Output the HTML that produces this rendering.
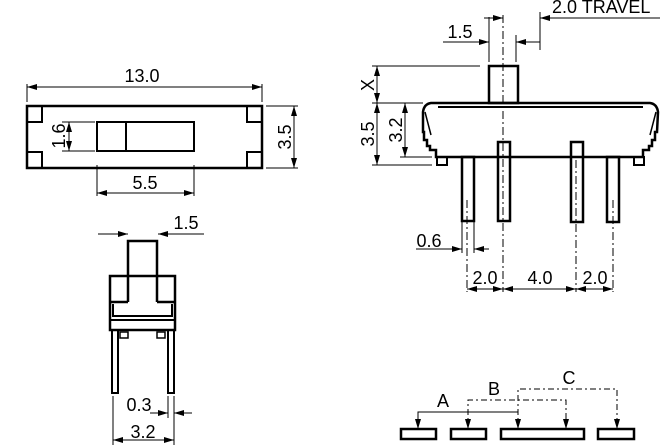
<!DOCTYPE html>
<html><head><meta charset="utf-8"><style>
html,body{margin:0;padding:0;background:#fff}
svg{display:block}
text{font-family:"Liberation Sans",sans-serif;font-size:18px;fill:#000}
</style></head><body>
<svg width="660" height="447" viewBox="0 0 660 447" xmlns="http://www.w3.org/2000/svg">
<defs>
<marker id="a" viewBox="0 0 10 6" refX="10" refY="3" markerWidth="10" markerHeight="6" markerUnits="userSpaceOnUse" orient="auto"><path d="M0,0L10,3L0,6z" fill="#000"/></marker>
</defs>
<g fill="none" stroke="#000">
<g stroke-width="2.5">
<rect x="27" y="106" width="235" height="62"/>
<rect x="97" y="122" width="97" height="29" stroke-width="2"/>
<line x1="126" y1="122" x2="126" y2="151" stroke-width="2"/>
<rect x="27" y="106" width="15" height="16" stroke-width="2"/>
<rect x="27" y="152" width="15" height="16" stroke-width="2"/>
<rect x="247" y="106" width="15" height="16" stroke-width="2"/>
<rect x="247" y="152" width="15" height="16" stroke-width="2"/>
</g>
<g stroke-width="1">
<line x1="27" y1="102" x2="27" y2="84"/><line x1="262" y1="102" x2="262" y2="84"/>
<line x1="40" y1="87" x2="27" y2="87" marker-end="url(#a)"/><line x1="40" y1="87" x2="262" y2="87" marker-end="url(#a)"/>
<line x1="266" y1="106" x2="298" y2="106"/><line x1="266" y1="168" x2="298" y2="168"/>
<line x1="294" y1="130" x2="294" y2="106" marker-end="url(#a)"/><line x1="294" y1="130" x2="294" y2="168" marker-end="url(#a)"/>
<line x1="62" y1="122" x2="95" y2="122"/><line x1="62" y1="151" x2="95" y2="151"/>
<line x1="69" y1="136" x2="69" y2="122" marker-end="url(#a)"/><line x1="69" y1="136" x2="69" y2="151" marker-end="url(#a)"/>
<line x1="97" y1="165" x2="97" y2="196"/><line x1="194" y1="165" x2="194" y2="196"/>
<line x1="145" y1="193" x2="97" y2="193" marker-end="url(#a)"/><line x1="145" y1="193" x2="194" y2="193" marker-end="url(#a)"/>
</g>

<g stroke-width="2.5">
<rect x="489" y="66" width="29" height="37"/>
<path d="M431,103 L650,103 Q657,104 658,112 L657,132 L655,132 L655,140 L652,140 L652,146 L649,146 L649,150 L643,150 L643,157 L436,157 L436,150 L430,150 L430,146 L427,146 L427,140 L424,140 L424,132 L423,132 L423,112 Q424,104 431,103 Z"/>
<path d="M425,112 L431,135 M656,112 L650,135" stroke-width="1.5"/>
<line x1="438" y1="107" x2="643" y2="107" stroke-width="2"/>
<rect x="437" y="157" width="10" height="8" stroke-width="2"/>
<rect x="634" y="157" width="10" height="8" stroke-width="2"/>
<rect x="462" y="157" width="12" height="64"/>
<rect x="498" y="142" width="12" height="79"/>
<rect x="571" y="142" width="12" height="80"/>
<rect x="607" y="157" width="12" height="65"/>
</g>
<g stroke-width="1">
<line x1="503" y1="15" x2="503" y2="292" stroke-dasharray="8,3,2,3"/>
<line x1="467" y1="200" x2="467" y2="292" stroke-dasharray="8,3,2,3"/>
<line x1="576" y1="160" x2="576" y2="292" stroke-dasharray="8,3,2,3"/>
<line x1="613" y1="200" x2="613" y2="292" stroke-dasharray="8,3,2,3"/>
<line x1="489" y1="17" x2="489" y2="62"/><line x1="516" y1="35" x2="516" y2="62"/>
<line x1="443" y1="42" x2="489" y2="42" marker-end="url(#a)"/><line x1="540" y1="42" x2="516" y2="42" marker-end="url(#a)"/>
<line x1="540" y1="12" x2="540" y2="50"/>
<line x1="660" y1="18" x2="540" y2="18" marker-end="url(#a)"/>
<line x1="484" y1="18" x2="503" y2="18" marker-end="url(#a)"/>
<line x1="372" y1="66" x2="480" y2="66"/><line x1="372" y1="103" x2="423" y2="103"/>
<line x1="372" y1="165" x2="432" y2="165"/><line x1="400" y1="157" x2="432" y2="157"/>
<line x1="377" y1="84" x2="377" y2="66" marker-end="url(#a)"/><line x1="377" y1="84" x2="377" y2="103" marker-end="url(#a)"/>
<line x1="377" y1="134" x2="377" y2="103" marker-end="url(#a)"/><line x1="377" y1="134" x2="377" y2="165" marker-end="url(#a)"/>
<line x1="405" y1="130" x2="405" y2="103" marker-end="url(#a)"/><line x1="405" y1="130" x2="405" y2="157" marker-end="url(#a)"/>
<line x1="462" y1="222" x2="462" y2="253"/><line x1="474" y1="222" x2="474" y2="253"/>
<line x1="416" y1="249" x2="462" y2="249" marker-end="url(#a)"/><line x1="489" y1="249" x2="474" y2="249" marker-end="url(#a)"/>
<line x1="485" y1="289" x2="467" y2="289" marker-end="url(#a)"/><line x1="485" y1="289" x2="503" y2="289" marker-end="url(#a)"/>
<line x1="540" y1="289" x2="503" y2="289" marker-end="url(#a)"/><line x1="540" y1="289" x2="576" y2="289" marker-end="url(#a)"/>
<line x1="595" y1="289" x2="576" y2="289" marker-end="url(#a)"/><line x1="595" y1="289" x2="613" y2="289" marker-end="url(#a)"/>
</g>

<g stroke-width="2.5">
<path d="M128,302 L128,241 L157,241 L157,302"/>
<rect x="110" y="276" width="65" height="54"/>
<path d="M110,302 L128,302 M157,302 L175,302"/>
<path d="M113,304 L113,316 L172,316 L172,304" stroke-width="2"/>
<line x1="110" y1="320" x2="175" y2="320" stroke-width="2"/>
<rect x="112" y="330" width="6" height="63" stroke-width="2"/>
<rect x="168" y="330" width="6" height="63" stroke-width="2"/>
<rect x="120" y="332" width="8" height="6" stroke-width="1.5"/>
<rect x="157" y="332" width="8" height="6" stroke-width="1.5"/>
</g>
<g stroke-width="1">
<line x1="98" y1="234" x2="128" y2="234" marker-end="url(#a)"/><line x1="204" y1="234" x2="158" y2="234" marker-end="url(#a)"/>
<line x1="113" y1="396" x2="113" y2="445"/><line x1="168" y1="396" x2="168" y2="418"/><line x1="174" y1="396" x2="174" y2="445"/>
<line x1="150" y1="413" x2="168" y2="413" marker-end="url(#a)"/><line x1="192" y1="413" x2="174" y2="413" marker-end="url(#a)"/>
<line x1="143" y1="440" x2="113" y2="440" marker-end="url(#a)"/><line x1="143" y1="440" x2="174" y2="440" marker-end="url(#a)"/>
</g>

<g stroke-width="2.5">
<rect x="401" y="429" width="35" height="10"/>
<rect x="451" y="429" width="35" height="10"/>
<rect x="501" y="429" width="83" height="10"/>
<rect x="598" y="429" width="36" height="10"/>
</g>
<g stroke-width="1">
<path d="M518,412 L418,412 L418,429" marker-end="url(#a)"/>
<path d="M468,429 L468,400 L566,400 L566,429" stroke-dasharray="6,3,2,3"/>
<line x1="468" y1="418" x2="468" y2="429" marker-end="url(#a)"/>
<line x1="566" y1="418" x2="566" y2="429" marker-end="url(#a)"/>
<path d="M518,429 L518,389 L617,389 L617,429" stroke-dasharray="6,3,2,3"/>
<line x1="518" y1="418" x2="518" y2="429" marker-end="url(#a)"/>
<line x1="617" y1="418" x2="617" y2="429" marker-end="url(#a)"/>
</g>
</g>

<g>
<text x="142" y="82" text-anchor="middle">13.0</text>
<text x="145" y="189" text-anchor="middle">5.5</text>
<text transform="translate(291,137) rotate(-90)" text-anchor="middle">3.5</text>
<text transform="translate(65,136) rotate(-90)" text-anchor="middle">1.6</text>
<text x="460" y="38" text-anchor="middle">1.5</text>
<text x="552" y="13">2.0 TRAVEL</text>
<text transform="translate(374,85) rotate(-90)" text-anchor="middle">X</text>
<text transform="translate(374,134) rotate(-90)" text-anchor="middle">3.5</text>
<text transform="translate(402,130) rotate(-90)" text-anchor="middle">3.2</text>
<text x="429" y="247" text-anchor="middle">0.6</text>
<text x="485" y="284" text-anchor="middle">2.0</text>
<text x="540" y="284" text-anchor="middle">4.0</text>
<text x="595" y="284" text-anchor="middle">2.0</text>
<text x="186" y="229" text-anchor="middle">1.5</text>
<text x="139" y="411" text-anchor="middle">0.3</text>
<text x="143" y="438" text-anchor="middle">3.2</text>
<text x="443" y="407" text-anchor="middle">A</text>
<text x="494" y="395" text-anchor="middle">B</text>
<text x="569" y="384" text-anchor="middle">C</text>
</g>
</svg>
</body></html>
